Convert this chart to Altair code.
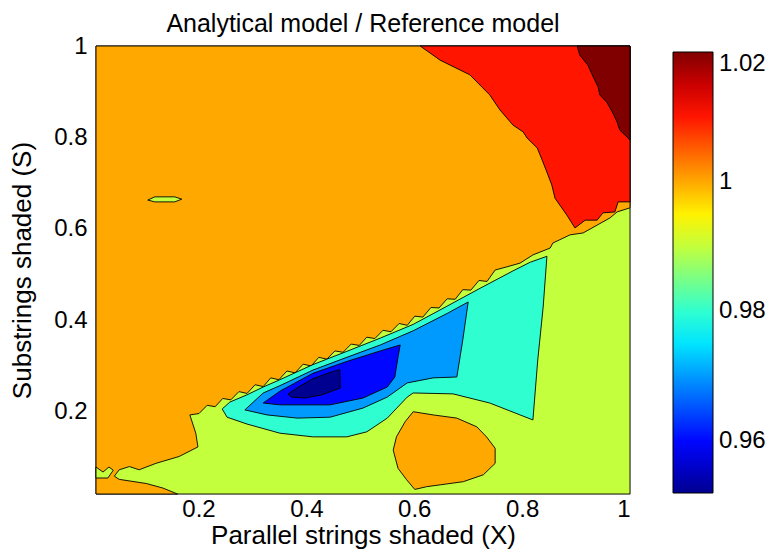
import altair as alt
import pandas as pd

# ---------------- axes / colour bar ----------------
X_DOMAIN = [0.01, 1.0]
Y_DOMAIN = [0.02, 1.0]
X_TICKS = [0.2, 0.4, 0.6, 0.8, 1.0]
Y_TICKS = [0.2, 0.4, 0.6, 0.8, 1.0]
CBAR_TICKS = [0.96, 0.98, 1.0, 1.02]
# jet colormap anchors over the colour-bar range 0.952 .. 1.02
JET_DOMAIN = [0.952, 0.9596, 0.9768, 0.9941, 1.0114, 1.02]
JET_COLORS = ["#000090", "#0000ff", "#00ffff", "#ffff00", "#ff0000", "#800000"]

# ---------------- filled contour regions (x, y) ----------------
BASE_099 = [(0.01, 0.02), (1.0, 0.02), (1.0, 1.0), (0.01, 1.0)]

ORANGE_MAIN_100 = [
    (0.01, 1.0), (1.0, 1.0), (1.0, 0.646), (0.976, 0.637), (0.963, 0.624), (0.913, 0.591),
    (0.889, 0.587), (0.857, 0.569), (0.852, 0.558), (0.820, 0.543), (0.796, 0.525),
    (0.772, 0.517), (0.750, 0.510), (0.735, 0.485), (0.720, 0.487), (0.705, 0.466),
    (0.690, 0.467), (0.676, 0.446), (0.661, 0.447), (0.646, 0.427), (0.631, 0.428),
    (0.616, 0.407), (0.601, 0.409), (0.587, 0.389), (0.572, 0.393), (0.557, 0.375),
    (0.542, 0.378), (0.527, 0.360), (0.512, 0.363), (0.498, 0.345), (0.483, 0.348),
    (0.468, 0.330), (0.453, 0.333), (0.438, 0.315), (0.423, 0.319), (0.409, 0.300),
    (0.394, 0.304), (0.379, 0.285), (0.364, 0.289), (0.349, 0.270), (0.334, 0.274),
    (0.320, 0.255), (0.305, 0.259), (0.290, 0.240), (0.275, 0.244), (0.260, 0.226),
    (0.245, 0.229), (0.231, 0.211), (0.216, 0.214), (0.201, 0.196), (0.184, 0.193),
    (0.195, 0.153), (0.199, 0.123), (0.164, 0.102), (0.121, 0.087), (0.090, 0.073),
    (0.072, 0.080), (0.053, 0.073), (0.044, 0.059), (0.053, 0.052), (0.103, 0.043),
    (0.134, 0.033), (0.161, 0.02), (0.01, 0.02),
]

ORANGE_BLOB_100 = [
    (0.598, 0.200), (0.635, 0.193), (0.679, 0.186), (0.716, 0.167), (0.734, 0.145),
    (0.750, 0.120), (0.750, 0.087), (0.728, 0.062), (0.691, 0.047), (0.648, 0.040),
    (0.623, 0.036), (0.601, 0.030), (0.586, 0.051), (0.570, 0.076), (0.561, 0.116),
    (0.567, 0.145), (0.583, 0.178),
]

RED_101 = [
    (0.611, 1.0), (1.0, 1.0), (1.0, 0.659), (0.978, 0.659), (0.972, 0.637), (0.950, 0.635),
    (0.939, 0.619), (0.917, 0.619), (0.898, 0.602), (0.883, 0.630), (0.861, 0.667),
    (0.855, 0.696), (0.846, 0.724), (0.837, 0.751), (0.828, 0.777), (0.809, 0.799),
    (0.802, 0.812), (0.783, 0.827), (0.759, 0.860), (0.740, 0.893), (0.703, 0.937),
    (0.648, 0.969),
]

DARKRED_102 = [
    (0.902, 1.0), (1.0, 1.0), (1.0, 0.794), (0.991, 0.805), (0.981, 0.816), (0.976, 0.834),
    (0.967, 0.856), (0.957, 0.877), (0.944, 0.893), (0.941, 0.910), (0.930, 0.937),
    (0.922, 0.958), (0.907, 0.980),
]

YG_PATCH_099 = [(0.01, 0.079), (0.023, 0.068), (0.034, 0.079), (0.042, 0.072),
                (0.032, 0.055), (0.01, 0.055)]
YG_SLIVER_099 = [(0.106, 0.663), (0.119, 0.670), (0.156, 0.670), (0.169, 0.665),
                 (0.156, 0.659), (0.119, 0.659)]

AQUA_098 = [
    (0.244, 0.206), (0.258, 0.221), (0.290, 0.237), (0.320, 0.254), (0.351, 0.270),
    (0.412, 0.303), (0.475, 0.332), (0.537, 0.361), (0.598, 0.391), (0.661, 0.431),
    (0.722, 0.470), (0.783, 0.508), (0.815, 0.527), (0.846, 0.540), (0.839, 0.429),
    (0.829, 0.313), (0.820, 0.182), (0.740, 0.219), (0.672, 0.239), (0.598, 0.241),
    (0.587, 0.232), (0.550, 0.186), (0.512, 0.156), (0.475, 0.145), (0.412, 0.145),
    (0.351, 0.153), (0.290, 0.173), (0.253, 0.188),
]

LIGHTBLUE_097 = [
    (0.286, 0.204), (0.320, 0.241), (0.351, 0.257), (0.412, 0.291), (0.475, 0.319),
    (0.537, 0.346), (0.598, 0.377), (0.661, 0.415), (0.700, 0.440), (0.690, 0.357),
    (0.679, 0.276), (0.635, 0.274), (0.587, 0.263), (0.550, 0.232), (0.505, 0.208),
    (0.444, 0.188), (0.383, 0.186), (0.327, 0.193),
]

BLUE_096 = [
    (0.320, 0.219), (0.351, 0.245), (0.412, 0.284), (0.475, 0.310), (0.537, 0.333),
    (0.574, 0.346), (0.570, 0.320), (0.564, 0.276), (0.550, 0.254), (0.505, 0.230),
    (0.444, 0.215), (0.351, 0.215),
]

DARKBLUE_095 = [
    (0.366, 0.239), (0.388, 0.256), (0.412, 0.272), (0.444, 0.286), (0.462, 0.292),
    (0.463, 0.252), (0.429, 0.237), (0.397, 0.230), (0.372, 0.232),
]

# drawing order (bottom to top) with contour level of each region
REGIONS = [
    ("base", 0.99, BASE_099),
    ("orange_main", 1.00, ORANGE_MAIN_100),
    ("orange_blob", 1.00, ORANGE_BLOB_100),
    ("red", 1.01, RED_101),
    ("darkred", 1.02, DARKRED_102),
    ("yg_patch", 0.99, YG_PATCH_099),
    ("yg_sliver", 0.99, YG_SLIVER_099),
    ("aqua", 0.98, AQUA_098),
    ("lightblue", 0.97, LIGHTBLUE_097),
    ("blue", 0.96, BLUE_096),
    ("darkblue", 0.95, DARKBLUE_095),
]

rows = []
for name, level, pts in REGIONS:
    for i, (x, y) in enumerate(pts + [pts[0]]):
        rows.append({"poly": name, "level": level, "i": i, "x": x, "y": y})
df = pd.DataFrame(rows)

FONT = "Liberation Sans"

fill_scale = alt.Scale(type="linear", domain=JET_DOMAIN, range=JET_COLORS,
                       clamp=True, interpolate="rgb")
legend = alt.Legend(
    orient="none", legendX=577, legendY=6, direction="vertical",
    gradientLength=441, gradientThickness=40, values=CBAR_TICKS, format="~g",
    title=None, labelFontSize=24, labelFont=FONT, labelColor="black",
    gradientStrokeColor="black", gradientStrokeWidth=1, labelOffset=6,
    labelOverlap=False,
)

base = alt.Chart(df).mark_line(stroke="black", strokeWidth=0.9, strokeJoin="round").encode(
    x=alt.X("x:Q", scale=alt.Scale(domain=X_DOMAIN, nice=False, zero=False),
            axis=alt.Axis(values=X_TICKS, format="~g", title="Parallel strings shaded (X)",
                          ticks=False, domain=False, grid=False, labelPadding=3,
                          titlePadding=1, labelFontSize=24, titleFontSize=26,
                          labelFont=FONT, titleFont=FONT, titleFontWeight="normal",
                          labelColor="black", titleColor="black")),
    y=alt.Y("y:Q", scale=alt.Scale(domain=Y_DOMAIN, nice=False, zero=False),
            axis=alt.Axis(values=Y_TICKS, format="~g", title="Substrings shaded (S)",
                          ticks=False, domain=False, grid=False, labelPadding=9,
                          titlePadding=18, labelFontSize=24, titleFontSize=26,
                          labelFont=FONT, titleFont=FONT, titleFontWeight="normal",
                          labelColor="black", titleColor="black")),
    order=alt.Order("i:Q"),
    detail="poly:N",
    fill=alt.Fill("level:Q", scale=fill_scale, legend=legend),
)

layers = [base.transform_filter(alt.datum.poly == name) for name, _, _ in REGIONS]

chart = alt.layer(*layers).properties(
    width=534, height=448,
    title=alt.TitleParams("Analytical model / Reference model", fontSize=25, font=FONT,
                          fontWeight="normal", color="black", offset=-3, anchor="middle"),
    autosize=alt.AutoSizeParams(type="none"),
    padding={"left": 88, "top": 38, "right": 144, "bottom": 63},
).configure_view(stroke="black", strokeWidth=1).configure(background="white")

chart.save("out.html", embed_options={"renderer": "svg", "actions": False})
